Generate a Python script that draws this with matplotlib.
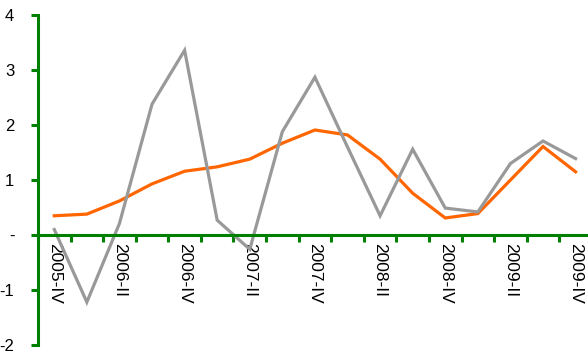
import matplotlib.pyplot as plt
from matplotlib.ticker import FuncFormatter

quarters = ['2005-IV', '2006-I', '2006-II', '2006-III', '2006-IV', '2007-I', '2007-II',
            '2007-III', '2007-IV', '2008-I', '2008-II', '2008-III', '2008-IV',
            '2009-I', '2009-II', '2009-III', '2009-IV']
orange_vals = [0.35, 0.38, 0.62, 0.93, 1.16, 1.24, 1.38, 1.67, 1.91, 1.82, 1.38,
               0.76, 0.31, 0.39, 1.00, 1.61, 1.15]
gray_vals = [0.10, -1.22, 0.21, 2.38, 3.36, 0.27, -0.26, 1.88, 2.87, 1.60, 0.35,
             1.56, 0.49, 0.42, 1.30, 1.71, 1.39]

plt.rcParams['font.family'] = ['Liberation Sans', 'DejaVu Sans']
green = '#008000'

fig = plt.figure(figsize=(5.88, 3.59), dpi=100)
ax = fig.add_axes([0.0646, 0.039, 0.942, 0.919])

x = range(len(quarters))
ax.plot(x, orange_vals, color='#FF6600', lw=2.3, solid_joinstyle='miter')
ax.plot(x, gray_vals, color='#999999', lw=2.3, solid_joinstyle='miter')

ax.set_xlim(-0.5, len(quarters) - 0.5)
ax.set_ylim(-2, 4)

for s in ['top', 'right']:
    ax.spines[s].set_visible(False)
ax.spines['bottom'].set_position(('data', 0))
for s in ['left', 'bottom']:
    ax.spines[s].set_color(green)
    ax.spines[s].set_linewidth(2.2)

# labels every second quarter, tick marks between categories
ax.set_xticks(list(x)[::2])
ax.set_xticklabels(quarters[::2], rotation=270, fontsize=12.5)
ax.set_xticks([i - 0.5 for i in range(len(quarters) + 1)], minor=True)
ax.tick_params(axis='x', which='major', length=0, pad=6)
ax.tick_params(axis='x', which='minor', length=5, width=2.2, color=green, direction='out')

ax.set_yticks(range(-2, 5))
ax.yaxis.set_major_formatter(FuncFormatter(lambda v, p: '-' if v == 0 else f'{int(v)}'))
ax.tick_params(axis='y', length=5, width=2.2, color=green, labelsize=12, pad=12)

fig.savefig('out.png', dpi=100)
